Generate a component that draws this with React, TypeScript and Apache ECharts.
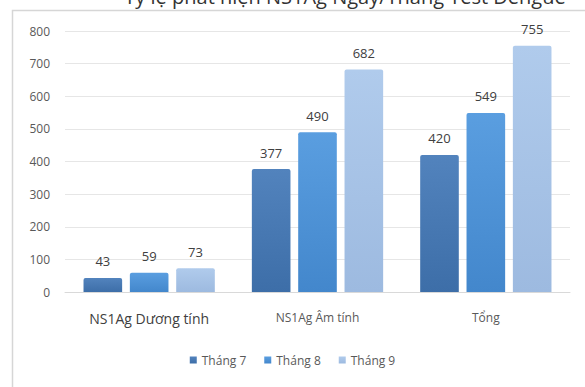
import React, { useEffect, useRef } from "react";
import * as echarts from "echarts";

const categories = ["NS1Ag Dương tính", "NS1Ag Âm tính", "Tổng"];
const seriesNames = ["Tháng 7", "Tháng 8", "Tháng 9"];
const thang7 = [43, 377, 420];
const thang8 = [59, 490, 549];
const thang9 = [73, 682, 755];
const yTicks = { min: 0, max: 800, interval: 100 };
const titleText = "Tỷ lệ phát hiện NS1Ag Ngày/Tháng Test Dengue";

const colors = [
  ["#5283bd", "#3d6ea8"],
  ["#5a9ee0", "#4387cc"],
  ["#b0cbec", "#9dbae0"],
];

export default function App() {
  const ref = useRef<HTMLDivElement>(null);
  useEffect(() => {
    if (!ref.current) return;
    const chart = echarts.init(ref.current, undefined, { renderer: "svg" });
    const data = [thang7, thang8, thang9];
    chart.setOption({
      animation: false,
      backgroundColor: "#ffffff",
      textStyle: { fontFamily: "Open Sans" },
      grid: { left: 65, right: 15, top: 31, bottom: 95, containLabel: false },
      graphic: [
        {
          type: "rect",
          left: 10,
          top: 8,
          shape: { width: 620, height: 420 },
          style: { fill: "none", stroke: "#d6d6d6", lineWidth: 1.5 },
          silent: true,
        },
        {
          type: "text",
          x: 345,
          y: -14,
          style: {
            text: titleText,
            fill: "#333333",
            font: "20px 'Open Sans'",
            align: "center",
            verticalAlign: "top",
          },
          silent: true,
        },
      ],
      legend: {
        data: seriesNames,
        bottom: 16,
        left: "center",
        itemWidth: 7,
        itemHeight: 7,
        itemGap: 18,
        icon: "rect",
        textStyle: { color: "#595959", fontSize: 12 },
      },
      xAxis: {
        type: "category",
        data: categories,
        axisLine: { lineStyle: { color: "#d9d9d9" } },
        axisTick: { show: false },
        axisLabel: {
          margin: 19,
          interval: 0,
          formatter: (v: string, i: number) => (i === 0 ? `{a|${v}}` : `{b|${v}}`),
          rich: {
            a: { fontSize: 14, color: "#404040" },
            b: { fontSize: 12, color: "#595959" },
          },
        },
      },
      yAxis: {
        type: "value",
        min: yTicks.min,
        max: yTicks.max,
        interval: yTicks.interval,
        axisLine: { show: false },
        axisTick: { show: false },
        axisLabel: { color: "#595959", fontSize: 12, margin: 15 },
        splitLine: { lineStyle: { color: "#e6e6e6" } },
      },
      series: seriesNames.map((name, i) => ({
        name,
        type: "bar",
        data: data[i],
        barGap: "20%",
        barCategoryGap: "22%",
        itemStyle: {
          color: new echarts.graphic.LinearGradient(0, 0, 0, 1, [
            { offset: 0, color: colors[i][0] },
            { offset: 1, color: colors[i][1] },
          ]),
          borderRadius: [2, 2, 0, 0],
        },
        label: {
          show: true,
          position: "top",
          distance: 10,
          color: "#404040",
          fontSize: 13,
        },
      })),
      color: colors.map((c) => c[1]),
    });
    return () => chart.dispose();
  }, []);
  return (
    <div
      ref={ref}
      style={{ position: "fixed", left: 0, top: 0, width: 585, height: 387 }}
    />
  );
}
